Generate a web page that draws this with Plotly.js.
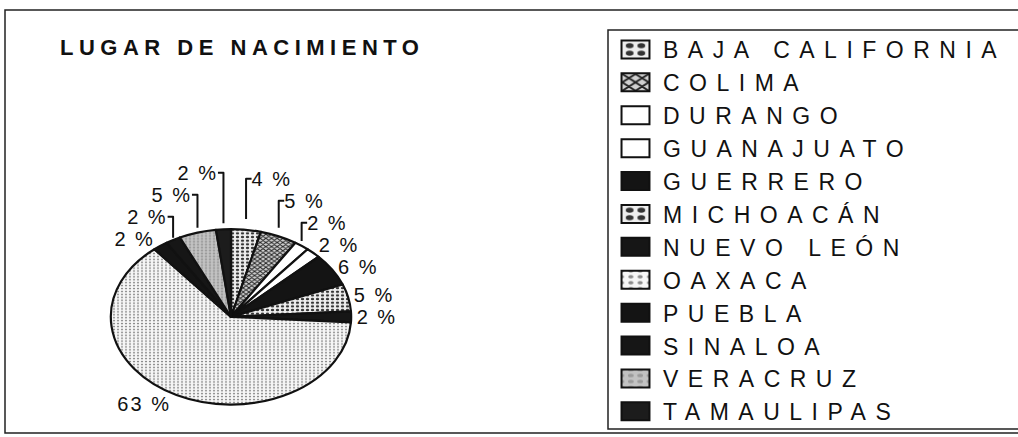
<!DOCTYPE html>
<html>
<head>
<meta charset="utf-8">
<script src="https://cdn.plot.ly/plotly-3.0.1.min.js"></script>
<style>
  html, body { margin: 0; padding: 0; background: #ffffff; }
  #chart { width: 1018px; height: 437px; }
  .legendtext { letter-spacing: 9.5px; }
  .gtitle { letter-spacing: 5.5px; }
  .slicetext { letter-spacing: 2px; }
</style>
</head>
<body>
<div id="chart"></div>
<script>
// ---- data ----
const states = ["BAJA CALIFORNIA", "COLIMA", "DURANGO", "GUANAJUATO", "GUERRERO", "MICHOACÁN",
                "NUEVO LEÓN", "OAXACA", "PUEBLA", "SINALOA", "VERACRUZ", "TAMAULIPAS"];
const percents = [4, 5, 2, 2, 6, 5, 2, 63, 2, 2, 5, 2];
const chartTitle = "LUGAR DE NACIMIENTO";

// ---- styling (greyscale fills and hatch patterns) ----
const fillColors   = ["#eeeeee", "#d0d0d0", "#ffffff", "#ffffff", "#141414", "#eeeeee",
                      "#161616", "#f6f6f6", "#141414", "#161616", "#c2c2c2", "#1c1c1c"];
const patternShape = [".", "x", "", "", "", ".", "", ".", "", "", ".", ""];
const patternFg    = ["#333333", "#222222", "#000", "#000", "#000", "#333333", "#000", "#8a8a8a",
                      "#000", "#000", "#9a9a9a", "#000"];
const patternSize  = [5, 4, 6, 6, 6, 5, 6, 4, 6, 6, 4, 6];
const patternSol   = [0.35, 0.45, 0.3, 0.3, 0.3, 0.35, 0.3, 0.25, 0.3, 0.3, 0.3, 0.3];

const W = 1018, H = 437;
const FONT = "Liberation Sans, Arial, Helvetica, sans-serif";
const px = x => x / W;
const py = y => 1 - y / H;

const data = [{
  type: "pie",
  labels: states,
  values: percents,
  sort: false,
  direction: "clockwise",
  rotation: 0,
  textposition: "outside",
  texttemplate: "%{value} %",
  textfont: { family: FONT, size: 20, color: "#111111" },
  outsidetextfont: { family: FONT, size: 20, color: "#111111" },
  automargin: false,
  domain: { x: [px(110), px(352)], y: [0, 0.55] },
  marker: {
    colors: fillColors,
    line: { color: "#111111", width: 2.2 },
    pattern: {
      shape: patternShape,
      fgcolor: patternFg,
      bgcolor: fillColors,
      size: patternSize,
      solidity: patternSol
    }
  },
  hoverinfo: "none"
}];

const layout = {
  width: W, height: H,
  margin: { l: 0, r: 0, t: 0, b: 0, autoexpand: false },
  paper_bgcolor: "#ffffff",
  plot_bgcolor: "#ffffff",
  showlegend: true,
  title: {
    text: chartTitle,
    font: { family: FONT, size: 22, color: "#111111", weight: "bold" },
    xref: "container", yref: "container",
    x: 60 / W, xanchor: "left",
    y: 1 - 47 / H, yanchor: "middle"
  },
  legend: {
    xref: "container", yref: "container",
    x: 608 / W, xanchor: "left",
    y: 1 - 28 / H, yanchor: "top",
    font: { family: FONT, size: 23, color: "#111111" },
    itemwidth: 45,
    maxheight: 420,
    borderwidth: 0,
    bgcolor: "rgba(0,0,0,0)",
    traceorder: "normal"
  },
  shapes: [
    { type: "rect", xref: "paper", yref: "paper",
      x0: px(5), x1: px(1030), y0: py(433), y1: py(10),
      line: { color: "#222222", width: 1.5 }, fillcolor: "rgba(0,0,0,0)" },
    { type: "rect", xref: "paper", yref: "paper",
      x0: px(608), x1: px(1030), y0: py(429), y1: py(30),
      line: { color: "#222222", width: 1.5 }, fillcolor: "rgba(0,0,0,0)" }
  ]
};

const config = { staticPlot: true, displayModeBar: false, responsive: false };

const gd = document.getElementById("chart");
Plotly.newPlot(gd, data, layout, config).then(function () {
  try {
    // tilt the pie into an ellipse, like the 3-D look of the original
    const k = 0.73;
    const cd = gd.calcdata[0];
    const cx = cd[0].cx, cy = cd[0].cy, r = cd[0].r;
    const slices = Array.from(gd.querySelectorAll(".pielayer g.slice"));
    const total = percents.reduce((a, b) => a + b, 0);
    let cum = 0;
    const labels = [];
    slices.forEach(function (s, i) {
      const surf = s.querySelector("path.surface");
      if (surf) {
        const old = surf.getAttribute("transform") || "";
        surf.setAttribute("transform",
          "translate(" + cx + "," + cy + ") scale(1," + k + ") translate(" + (-cx) + "," + (-cy) + ") " + old);
        surf.style.vectorEffect = "non-scaling-stroke";
      }
      const v = cd[i] ? cd[i].v : percents[i];
      const mid = (cum + v / 2) / total * 2 * Math.PI;
      cum += v;
      const dy = -r * Math.cos(mid) * (k - 1);
      const tg = s.querySelector("g.slicetext");
      if (tg) {
        const bb = tg.getBoundingClientRect();
        labels.push({ s: s, y: bb.top + bb.height / 2, right: (bb.left + bb.width / 2) > cx, dy: dy });
      }
    });
    // keep neighbouring labels apart, working outward from the one nearest the centre line
    [true, false].forEach(function (side) {
      const g = labels.filter(l => l.right === side).sort((a, b) => a.y - b.y);
      if (!g.length) return;
      let m = 0;
      g.forEach((l, j) => { if (Math.abs(l.dy) < Math.abs(g[m].dy)) m = j; });
      for (let j = m - 1; j >= 0; j--) {
        const lo = g[j + 1], up = g[j];
        const minGap = Math.min(lo.y - up.y, 22);
        const gap = (lo.y + lo.dy) - (up.y + up.dy);
        if (gap < minGap) up.dy -= (minGap - gap);
      }
      for (let j = m + 1; j < g.length; j++) {
        const up = g[j - 1], lo = g[j];
        const minGap = Math.min(lo.y - up.y, 22);
        const gap = (lo.y + lo.dy) - (up.y + up.dy);
        if (gap < minGap) lo.dy += (minGap - gap);
      }
    });
    labels.forEach(function (l) {
      l.s.querySelectorAll("g.slicetext, path.textline").forEach(function (el) {
        const old = el.getAttribute("transform") || "";
        el.setAttribute("transform", "translate(0," + l.dy + ") " + old);
      });
    });
    // larger legend swatches
    gd.querySelectorAll(".legendpie").forEach(function (p) {
      const old = p.getAttribute("transform") || "";
      p.setAttribute("transform", old + " scale(2.33,1.5)");
      p.style.vectorEffect = "non-scaling-stroke";
      p.style.strokeWidth = "2px";
    });
  } catch (e) { console.error(e); }
});
</script>
</body>
</html>
